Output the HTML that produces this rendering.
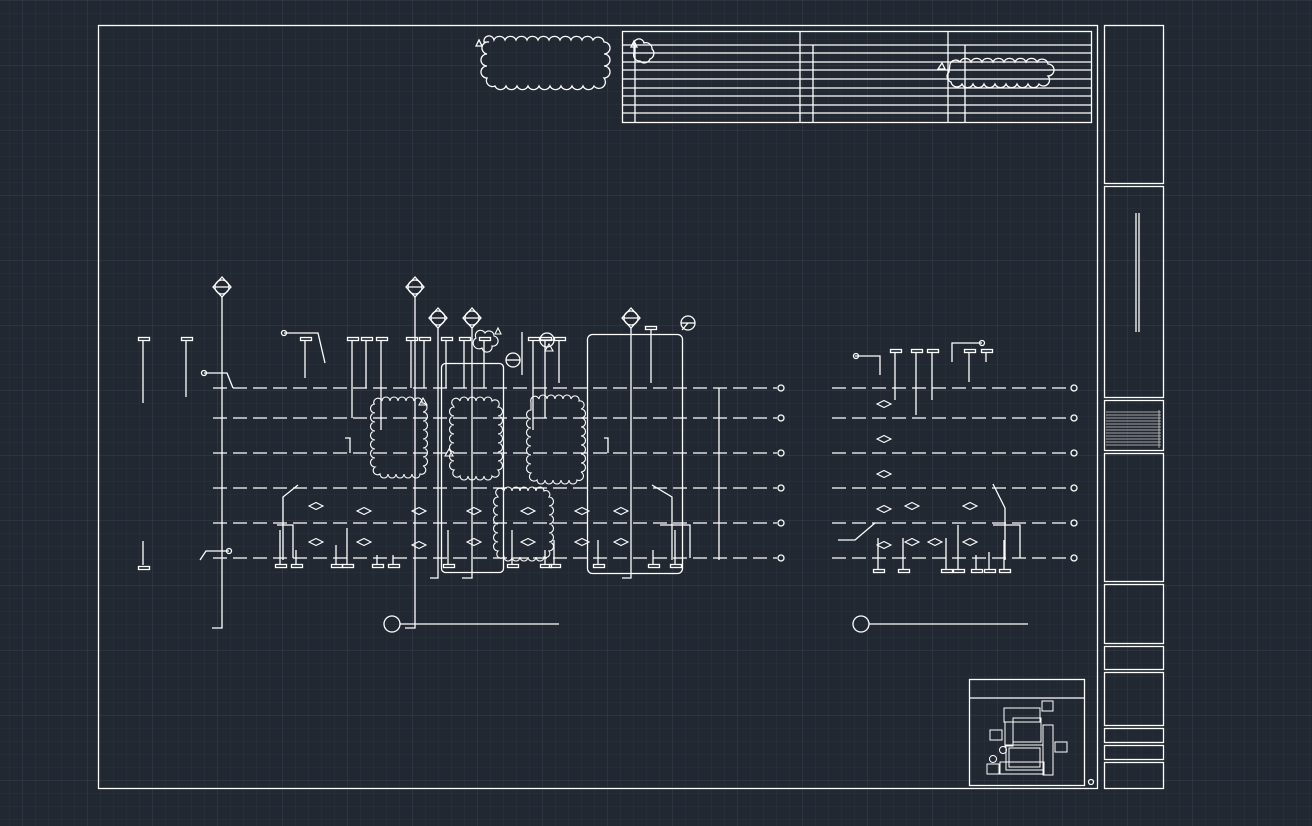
<!DOCTYPE html>
<html><head><meta charset="utf-8"><style>
html,body{margin:0;padding:0;background:#222831;}
svg{display:block}
</style></head><body>
<svg width="1312" height="826" viewBox="0 0 1312 826" xmlns="http://www.w3.org/2000/svg">
<defs>
<pattern id="mn" x="9" y="0" width="13" height="13" patternUnits="userSpaceOnUse">
<path d="M0 0H13M0 0V13" stroke="#2c3240" stroke-width="1" fill="none"/></pattern>
<pattern id="mj" x="22" y="0" width="65" height="65" patternUnits="userSpaceOnUse">
<path d="M0 0H65M0 0V65" stroke="#393d51" stroke-width="1" fill="none"/></pattern>
<g id="dc"><circle r="7" fill="none"/><path d="M-7 0H7M0 -10L-9 0L0 10L9 0Z" fill="none"/></g>
<g id="ci"><circle r="7" fill="none"/><path d="M-7 0H7" /></g>
<path id="dm" d="M-7 0L0 -3.5L7 0L0 3.5Z" fill="none"/>
</defs>
<rect width="1312" height="826" fill="#222831"/>
<rect width="1312" height="826" fill="url(#mn)"/>
<rect width="1312" height="826" fill="url(#mj)"/>
<g stroke="#fff" stroke-width="1.3" fill="none">
<!-- borders -->
<rect x="98.5" y="25.5" width="999" height="763"/>
<rect x="1104.5" y="25.5" width="59" height="158"/>
<rect x="1104.5" y="186.5" width="59" height="211"/>
<rect x="1104.5" y="400.5" width="59" height="50"/>
<rect x="1104.5" y="453.5" width="59" height="128"/>
<rect x="1104.5" y="584.5" width="59" height="59"/>
<rect x="1104.5" y="646.5" width="59" height="23"/>
<rect x="1104.5" y="672.5" width="59" height="53"/>
<rect x="1104.5" y="728.5" width="59" height="14"/>
<rect x="1104.5" y="745.5" width="59" height="14"/>
<rect x="1104.5" y="762.5" width="59" height="26"/>
<path d="M1136 213V332M1139 213V332" />
<g stroke-width="0.8" stroke="#ccc"><path d="M1106 412H1161M1106 415H1161M1106 418H1161M1106 421H1161M1106 424H1161M1106 427H1161M1106 430H1161M1106 433H1161M1106 436H1161M1106 439H1161M1106 442H1161M1106 445H1161M1159 410V448"/></g>
<!-- title table -->
<rect x="622.5" y="31.5" width="469" height="91"/>
<path d="M622 45H1091M622 53H1091M622 62H1091M622 70H1091M622 79H1091M622 88H1091M622 96H1091M622 105H1091M622 113H1091"/>
<path d="M800 31V122M948 31V122M635 45V122M813 45V122M965 45V122"/>
<!-- clouds -->
<path d="M484 42a5 5 0 0 1 10 -2a6 6 0 0 1 11 0a6 6 0 0 1 11 0a6 6 0 0 1 11 0a6 6 0 0 1 11 0a6 6 0 0 1 11 0a6 6 0 0 1 11 0a6 6 0 0 1 11 0a6 6 0 0 1 11 0a6 6 0 0 1 11 0a6 6 0 0 1 11 2a6 6 0 0 1 0 12a6 6 0 0 1 0 12a6 6 0 0 1 0 12a6 6 0 0 1 -10 8a6 6 0 0 1 -11 0a6 6 0 0 1 -11 0a6 6 0 0 1 -11 0a6 6 0 0 1 -11 0a6 6 0 0 1 -11 0a6 6 0 0 1 -11 0a6 6 0 0 1 -11 0a6 6 0 0 1 -11 0a6 6 0 0 1 -11 0a6 6 0 0 1 -8 -8a6 6 0 0 1 0 -12a6 6 0 0 1 0 -12a6 6 0 0 1 2 -12z"/>
<path d="M476 46L479 40L482 46Z"/>
<path d="M634 45a5 5 0 0 1 10 -2a6 6 0 0 1 8 6a6 6 0 0 1 -2 10a6 6 0 0 1 -10 2a6 6 0 0 1 -6 -8z"/>
<path d="M631 47L634 41L637 47Z"/>
<path d="M950 64a6 6 0 0 1 10 -2a6 6 0 0 1 11 0a6 6 0 0 1 11 0a6 6 0 0 1 11 0a6 6 0 0 1 11 0a6 6 0 0 1 11 0a6 6 0 0 1 11 0a6 6 0 0 1 11 0a6 6 0 0 1 11 2a6 6 0 0 1 0 12a6 6 0 0 1 -9 8a6 6 0 0 1 -11 0a6 6 0 0 1 -11 0a6 6 0 0 1 -11 0a6 6 0 0 1 -11 0a6 6 0 0 1 -11 0a6 6 0 0 1 -11 0a6 6 0 0 1 -11 0a6 6 0 0 1 -11 -2a6 6 0 0 1 -2 -10z"/>
<path d="M938 69L942 63L945 69Z"/>
<!-- dashed grid lines -->
<g stroke-dasharray="14 6">
<path d="M213 388H777M213 418H777M213 453H777M213 488H777M213 523H777M213 558H777"/>
<path d="M832 388H1070M832 418H1070M832 453H1070M832 488H1070M832 523H1070M832 558H1070"/>
</g>
<g><circle cx="781" cy="388" r="3"/><circle cx="781" cy="418" r="3"/><circle cx="781" cy="453" r="3"/><circle cx="781" cy="488" r="3"/><circle cx="781" cy="523" r="3"/><circle cx="781" cy="558" r="3"/>
<circle cx="1074" cy="388" r="3"/><circle cx="1074" cy="418" r="3"/><circle cx="1074" cy="453" r="3"/><circle cx="1074" cy="488" r="3"/><circle cx="1074" cy="523" r="3"/><circle cx="1074" cy="558" r="3"/></g>
<!-- main verticals -->
<path d="M222 297V628H212M415 297V628H405M438 328V578H430M472 328V578H462M631 328V578H622M719 388V560"/>
<use href="#dc" x="222" y="287"/><use href="#dc" x="415" y="287"/><use href="#dc" x="438" y="318"/><use href="#dc" x="472" y="318"/><use href="#dc" x="631" y="318"/>
<use href="#ci" x="513" y="360"/><use href="#ci" x="688" y="323"/><use href="#ci" x="547" y="340"/>
<path d="M682 330L688 323"/>
<!-- rounded rects -->
<rect x="441.5" y="363.5" width="62" height="209" rx="4"/>
<rect x="587.5" y="334.5" width="95" height="239" rx="5"/>
<!-- clouds in plan -->
<g stroke-width="1.1">
<path d="M374 404a4 4 0 0 1 8 -3a4 4 0 0 1 8 0a4 4 0 0 1 8 0a4 4 0 0 1 8 0a4 4 0 0 1 8 0a4 4 0 0 1 8 2a4 4 0 0 1 1 9a4 4 0 0 1 0 9a4 4 0 0 1 0 9a4 4 0 0 1 0 9a4 4 0 0 1 0 9a4 4 0 0 1 0 9a4 4 0 0 1 0 9a4 4 0 0 1 -3 8a4 4 0 0 1 -8 0a4 4 0 0 1 -8 0a4 4 0 0 1 -8 0a4 4 0 0 1 -8 0a4 4 0 0 1 -8 0a4 4 0 0 1 -5 -7a4 4 0 0 1 0 -9a4 4 0 0 1 0 -9a4 4 0 0 1 0 -9a4 4 0 0 1 0 -9a4 4 0 0 1 0 -9a4 4 0 0 1 0 -9a4 4 0 0 1 0 -9z"/>
<path d="M452 404a4 4 0 0 1 8 -3a4 4 0 0 1 8 0a4 4 0 0 1 8 0a4 4 0 0 1 8 0a4 4 0 0 1 8 0a4 4 0 0 1 6 6a4 4 0 0 1 0 9a4 4 0 0 1 0 9a4 4 0 0 1 0 9a4 4 0 0 1 0 9a4 4 0 0 1 0 9a4 4 0 0 1 0 9a4 4 0 0 1 0 9a4 4 0 0 1 -6 6a4 4 0 0 1 -8 0a4 4 0 0 1 -8 0a4 4 0 0 1 -8 0a4 4 0 0 1 -8 0a4 4 0 0 1 -6 -6a4 4 0 0 1 0 -9a4 4 0 0 1 0 -9a4 4 0 0 1 0 -9a4 4 0 0 1 0 -9a4 4 0 0 1 0 -9a4 4 0 0 1 0 -9a4 4 0 0 1 0 -9z"/>
<path d="M531 402a4 4 0 0 1 8 -3a4 4 0 0 1 8 0a4 4 0 0 1 8 0a4 4 0 0 1 8 0a4 4 0 0 1 8 0a4 4 0 0 1 8 2a4 4 0 0 1 2 8a4 4 0 0 1 0 9a4 4 0 0 1 0 9a4 4 0 0 1 0 9a4 4 0 0 1 0 9a4 4 0 0 1 0 9a4 4 0 0 1 0 9a4 4 0 0 1 0 9a4 4 0 0 1 -4 8a4 4 0 0 1 -8 0a4 4 0 0 1 -8 0a4 4 0 0 1 -8 0a4 4 0 0 1 -8 0a4 4 0 0 1 -8 0a4 4 0 0 1 -6 -7a4 4 0 0 1 0 -9a4 4 0 0 1 0 -9a4 4 0 0 1 0 -9a4 4 0 0 1 0 -9a4 4 0 0 1 0 -9a4 4 0 0 1 0 -9a4 4 0 0 1 0 -9z"/>
<path d="M496 494a4 4 0 0 1 8 -3a4 4 0 0 1 8 0a4 4 0 0 1 8 0a4 4 0 0 1 8 0a4 4 0 0 1 8 0a4 4 0 0 1 8 0a4 4 0 0 1 5 6a4 4 0 0 1 0 9a4 4 0 0 1 0 9a4 4 0 0 1 0 9a4 4 0 0 1 0 9a4 4 0 0 1 0 9a4 4 0 0 1 0 9a4 4 0 0 1 -5 6a4 4 0 0 1 -8 0a4 4 0 0 1 -8 0a4 4 0 0 1 -8 0a4 4 0 0 1 -8 0a4 4 0 0 1 -8 0a4 4 0 0 1 -6 -6a4 4 0 0 1 0 -9a4 4 0 0 1 0 -9a4 4 0 0 1 0 -9a4 4 0 0 1 0 -9a4 4 0 0 1 0 -9a4 4 0 0 1 0 -9z"/>
<path d="M476 338a5 5 0 0 1 9 -5a5 5 0 0 1 9 3a5 5 0 0 1 -2 10a5 5 0 0 1 -10 2a5 5 0 0 1 -6 -10z"/>
<path d="M419 405L423 398L427 405Z M495 334L498 328L501 334Z M445 456L449 449L453 456Z M545 351L549 344L553 351Z"/>
</g>
<!-- top tees -->
<path d="M143 340V403M186 340V397M305 340V378M352 340V418M366 340V388M381 340V430M411 340V388M424 340V388M446 340V388M464 340V388M484 340V388M533 340V430M545 340V418M559 340V383M651 329V383
M895 352V400M916 352V415M932 352V400M969 352V382M986 352V362"/>
<g><rect x="138.5" y="337.5" width="11" height="3"/><rect x="181.5" y="337.5" width="11" height="3"/><rect x="300.5" y="337.5" width="11" height="3"/><rect x="347.5" y="337.5" width="11" height="3"/><rect x="361.5" y="337.5" width="11" height="3"/><rect x="376.5" y="337.5" width="11" height="3"/><rect x="406.5" y="337.5" width="11" height="3"/><rect x="419.5" y="337.5" width="11" height="3"/><rect x="441.5" y="337.5" width="11" height="3"/><rect x="459.5" y="337.5" width="11" height="3"/><rect x="479.5" y="337.5" width="11" height="3"/><rect x="528.5" y="337.5" width="11" height="3"/><rect x="540.5" y="337.5" width="11" height="3"/><rect x="554.5" y="337.5" width="11" height="3"/><rect x="645.5" y="326.5" width="11" height="3"/>
<rect x="890.5" y="349.5" width="11" height="3"/><rect x="911.5" y="349.5" width="11" height="3"/><rect x="927.5" y="349.5" width="11" height="3"/><rect x="964.5" y="349.5" width="11" height="3"/><rect x="981.5" y="349.5" width="11" height="3"/></g>
<!-- leaders -->
<path d="M284 333H318L325 363M204 373H227L233 388M229 551H206L200 560M855 356H880V375M952 362V343H982M522 332V375M298 485L283 497V560M652 485L672 497V560M993 484L1005 508V560M838 540H855L875 523M345 438H350V453M604 438H608V453M660 525H690V558M993 525H1020V558M277 525H293V558"/>
<circle cx="284" cy="333" r="2.5"/><circle cx="204" cy="373" r="2.5"/><circle cx="229" cy="551" r="2.5"/><circle cx="856" cy="356" r="2.5"/><circle cx="982" cy="343" r="2.5"/>
<path d="M143 541V565M138.5 566.5h11v3h-11z"/>
<!-- bottom tees -->
<path d="M280 530V564M296 550V564M336 545V564M347 528V564M377 555V564M393 555V564M448 530V564M512 530V564M545 550V564M554 540V564M598 540V564M653 550V564M675 530V564M878 538V569M903 538V569M946 538V569M958 525V569M976 555V569M989 552V569M1004 540V569"/>
<g><rect x="275.5" y="564.5" width="11" height="3"/><rect x="291.5" y="564.5" width="11" height="3"/><rect x="331.5" y="564.5" width="11" height="3"/><rect x="342.5" y="564.5" width="11" height="3"/><rect x="372.5" y="564.5" width="11" height="3"/><rect x="388.5" y="564.5" width="11" height="3"/><rect x="443.5" y="564.5" width="11" height="3"/><rect x="507.5" y="564.5" width="11" height="3"/><rect x="540.5" y="564.5" width="11" height="3"/><rect x="549.5" y="564.5" width="11" height="3"/><rect x="593.5" y="564.5" width="11" height="3"/><rect x="648.5" y="564.5" width="11" height="3"/><rect x="670.5" y="564.5" width="11" height="3"/>
<rect x="873.5" y="569.5" width="11" height="3"/><rect x="898.5" y="569.5" width="11" height="3"/><rect x="941.5" y="569.5" width="11" height="3"/><rect x="953.5" y="569.5" width="11" height="3"/><rect x="971.5" y="569.5" width="11" height="3"/><rect x="984.5" y="569.5" width="11" height="3"/><rect x="999.5" y="569.5" width="11" height="3"/></g>
<!-- diamonds -->
<g stroke-width="1.1">
<use href="#dm" x="316" y="506"/><use href="#dm" x="364" y="511"/><use href="#dm" x="419" y="511"/><use href="#dm" x="474" y="511"/><use href="#dm" x="528" y="511"/><use href="#dm" x="582" y="511"/><use href="#dm" x="621" y="511"/>
<use href="#dm" x="316" y="542"/><use href="#dm" x="364" y="542"/><use href="#dm" x="419" y="545"/><use href="#dm" x="474" y="542"/><use href="#dm" x="528" y="542"/><use href="#dm" x="582" y="542"/><use href="#dm" x="621" y="542"/>
<use href="#dm" x="884" y="404"/><use href="#dm" x="884" y="439"/><use href="#dm" x="884" y="474"/><use href="#dm" x="884" y="509"/><use href="#dm" x="912" y="506"/><use href="#dm" x="970" y="506"/>
<use href="#dm" x="884" y="545"/><use href="#dm" x="912" y="542"/><use href="#dm" x="935" y="542"/><use href="#dm" x="970" y="542"/>
</g>
<!-- bottom circles/lines -->
<circle cx="392" cy="624" r="8"/><path d="M400 624H559"/>
<circle cx="861" cy="624" r="8"/><path d="M869 624H1028"/>
<!-- minimap -->
<rect x="969.5" y="679.5" width="115" height="106"/><path d="M969 698H1084"/>
<g stroke-width="1">
<rect x="1004" y="708" width="36" height="14"/><rect x="1042" y="701" width="11" height="10"/>
<rect x="1013" y="718" width="28" height="24"/><rect x="1005" y="722" width="8" height="24"/>
<rect x="1043" y="725" width="10" height="50"/><rect x="1006" y="745" width="37" height="25"/><rect x="1009" y="748" width="31" height="19"/>
<rect x="990" y="730" width="12" height="10"/><rect x="1055" y="742" width="12" height="10"/>
<rect x="987" y="764" width="12" height="10"/><circle cx="993" cy="759" r="3.5"/><circle cx="1003" cy="750" r="3.5"/>
<rect x="1000" y="762" width="44" height="12"/>
</g>
<circle cx="1091" cy="782" r="2.5"/>
</g>
</svg>
</body></html>
